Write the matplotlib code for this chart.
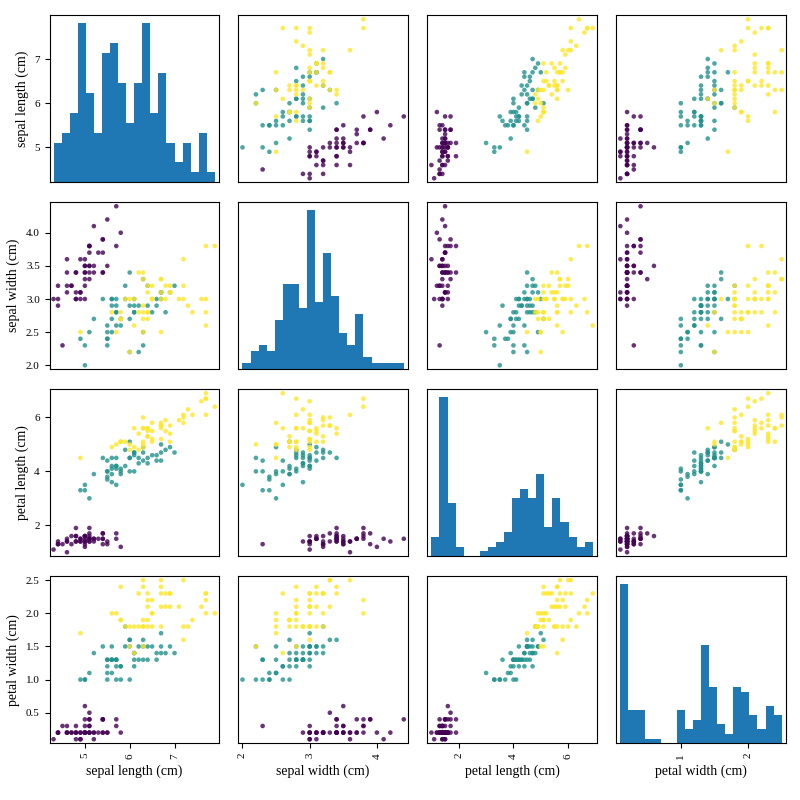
import numpy as np
import matplotlib
matplotlib.use('Agg')
import matplotlib.pyplot as plt

plt.rcParams['font.family'] = ['Liberation Serif', 'DejaVu Serif']

feature_names = ['sepal length (cm)', 'sepal width (cm)', 'petal length (cm)', 'petal width (cm)']

sepal_length = [
    5.1, 4.9, 4.7, 4.6, 5.0, 5.4, 4.6, 5.0, 4.4, 4.9, 5.4, 4.8, 4.8, 4.3, 5.8, 5.7, 5.4, 5.1, 5.7, 5.1, 5.4, 5.1, 4.6, 5.1, 4.8,
    5.0, 5.0, 5.2, 5.2, 4.7, 4.8, 5.4, 5.2, 5.5, 4.9, 5.0, 5.5, 4.9, 4.4, 5.1, 5.0, 4.5, 4.4, 5.0, 5.1, 4.8, 5.1, 4.6, 5.3, 5.0,
    7.0, 6.4, 6.9, 5.5, 6.5, 5.7, 6.3, 4.9, 6.6, 5.2, 5.0, 5.9, 6.0, 6.1, 5.6, 6.7, 5.6, 5.8, 6.2, 5.6, 5.9, 6.1, 6.3, 6.1, 6.4,
    6.6, 6.8, 6.7, 6.0, 5.7, 5.5, 5.5, 5.8, 6.0, 5.4, 6.0, 6.7, 6.3, 5.6, 5.5, 5.5, 6.1, 5.8, 5.0, 5.6, 5.7, 5.7, 6.2, 5.1, 5.7,
    6.3, 5.8, 7.1, 6.3, 6.5, 7.6, 4.9, 7.3, 6.7, 7.2, 6.5, 6.4, 6.8, 5.7, 5.8, 6.4, 6.5, 7.7, 7.7, 6.0, 6.9, 5.6, 7.7, 6.3, 6.7,
    7.2, 6.2, 6.1, 6.4, 7.2, 7.4, 7.9, 6.4, 6.3, 6.1, 7.7, 6.3, 6.4, 6.0, 6.9, 6.7, 6.9, 5.8, 6.8, 6.7, 6.7, 6.3, 6.5, 6.2, 5.9,
]
sepal_width = [
    3.5, 3.0, 3.2, 3.1, 3.6, 3.9, 3.4, 3.4, 2.9, 3.1, 3.7, 3.4, 3.0, 3.0, 4.0, 4.4, 3.9, 3.5, 3.8, 3.8, 3.4, 3.7, 3.6, 3.3, 3.4,
    3.0, 3.4, 3.5, 3.4, 3.2, 3.1, 3.4, 4.1, 4.2, 3.1, 3.2, 3.5, 3.6, 3.0, 3.4, 3.5, 2.3, 3.2, 3.5, 3.8, 3.0, 3.8, 3.2, 3.7, 3.3,
    3.2, 3.2, 3.1, 2.3, 2.8, 2.8, 3.3, 2.4, 2.9, 2.7, 2.0, 3.0, 2.2, 2.9, 2.9, 3.1, 3.0, 2.7, 2.2, 2.5, 3.2, 2.8, 2.5, 2.8, 2.9,
    3.0, 2.8, 3.0, 2.9, 2.6, 2.4, 2.4, 2.7, 2.7, 3.0, 3.4, 3.1, 2.3, 3.0, 2.5, 2.6, 3.0, 2.6, 2.3, 2.7, 3.0, 2.9, 2.9, 2.5, 2.8,
    3.3, 2.7, 3.0, 2.9, 3.0, 3.0, 2.5, 2.9, 2.5, 3.6, 3.2, 2.7, 3.0, 2.5, 2.8, 3.2, 3.0, 3.8, 2.6, 2.2, 3.2, 2.8, 2.8, 2.7, 3.3,
    3.2, 2.8, 3.0, 2.8, 3.0, 2.8, 3.8, 2.8, 2.8, 2.6, 3.0, 3.4, 3.1, 3.0, 3.1, 3.1, 3.1, 2.7, 3.2, 3.3, 3.0, 2.5, 3.0, 3.4, 3.0,
]
petal_length = [
    1.4, 1.4, 1.3, 1.5, 1.4, 1.7, 1.4, 1.5, 1.4, 1.5, 1.5, 1.6, 1.4, 1.1, 1.2, 1.5, 1.3, 1.4, 1.7, 1.5, 1.7, 1.5, 1.0, 1.7, 1.9,
    1.6, 1.6, 1.5, 1.4, 1.6, 1.6, 1.5, 1.5, 1.4, 1.5, 1.2, 1.3, 1.4, 1.3, 1.5, 1.3, 1.3, 1.3, 1.6, 1.9, 1.4, 1.6, 1.4, 1.5, 1.4,
    4.7, 4.5, 4.9, 4.0, 4.6, 4.5, 4.7, 3.3, 4.6, 3.9, 3.5, 4.2, 4.0, 4.7, 3.6, 4.4, 4.5, 4.1, 4.5, 3.9, 4.8, 4.0, 4.9, 4.7, 4.3,
    4.4, 4.8, 5.0, 4.5, 3.5, 3.8, 3.7, 3.9, 5.1, 4.5, 4.5, 4.7, 4.4, 4.1, 4.0, 4.4, 4.6, 4.0, 3.3, 4.2, 4.2, 4.2, 4.3, 3.0, 4.1,
    6.0, 5.1, 5.9, 5.6, 5.8, 6.6, 4.5, 6.3, 5.8, 6.1, 5.1, 5.3, 5.5, 5.0, 5.1, 5.3, 5.5, 6.7, 6.9, 5.0, 5.7, 4.9, 6.7, 4.9, 5.7,
    6.0, 4.8, 4.9, 5.6, 5.8, 6.1, 6.4, 5.6, 5.1, 5.6, 6.1, 5.6, 5.5, 4.8, 5.4, 5.6, 5.1, 5.1, 5.9, 5.7, 5.2, 5.0, 5.2, 5.4, 5.1,
]
petal_width = [
    0.2, 0.2, 0.2, 0.2, 0.2, 0.4, 0.3, 0.2, 0.2, 0.1, 0.2, 0.2, 0.1, 0.1, 0.2, 0.4, 0.4, 0.3, 0.3, 0.3, 0.2, 0.4, 0.2, 0.5, 0.2,
    0.2, 0.4, 0.2, 0.2, 0.2, 0.2, 0.4, 0.1, 0.2, 0.2, 0.2, 0.2, 0.1, 0.2, 0.2, 0.3, 0.3, 0.2, 0.6, 0.4, 0.3, 0.2, 0.2, 0.2, 0.2,
    1.4, 1.5, 1.5, 1.3, 1.5, 1.3, 1.6, 1.0, 1.3, 1.4, 1.0, 1.5, 1.0, 1.4, 1.3, 1.4, 1.5, 1.0, 1.5, 1.1, 1.8, 1.3, 1.5, 1.2, 1.3,
    1.4, 1.4, 1.7, 1.5, 1.0, 1.1, 1.0, 1.2, 1.6, 1.5, 1.6, 1.5, 1.3, 1.3, 1.3, 1.2, 1.4, 1.2, 1.0, 1.3, 1.2, 1.3, 1.3, 1.1, 1.3,
    2.5, 1.9, 2.1, 1.8, 2.2, 2.1, 1.7, 1.8, 1.8, 2.5, 2.0, 1.9, 2.1, 2.0, 2.4, 2.3, 1.8, 2.2, 2.3, 1.5, 2.3, 2.0, 2.0, 1.8, 2.1,
    1.8, 1.8, 1.8, 2.1, 1.6, 1.9, 2.0, 2.2, 1.5, 1.4, 2.3, 2.4, 1.8, 1.8, 2.1, 2.4, 2.3, 1.9, 2.3, 2.5, 2.3, 1.9, 2.0, 2.3, 1.8,
]
species = [0] * 50 + [1] * 50 + [2] * 50

x_ticks = [[5, 6, 7], [2, 3, 4], [2, 4, 6], [1, 2]]
y_ticks = [[5, 6, 7], [2.0, 2.5, 3.0, 3.5, 4.0], [2, 4, 6], [0.5, 1.0, 1.5, 2.0, 2.5]]
y_tick_labels = [['5', '6', '7'], ['2.0', '2.5', '3.0', '3.5', '4.0'], ['2', '4', '6'], ['0.5', '1.0', '1.5', '2.0', '2.5']]

columns = [np.array(sepal_length), np.array(sepal_width), np.array(petal_length), np.array(petal_width)]
n = len(columns)

fig, axes = plt.subplots(n, n, figsize=(8, 8))
fig.subplots_adjust(left=49.5 / 800, right=785.7 / 800, top=1 - 15.3 / 800, bottom=1 - 743.2 / 800,
                    wspace=0.1155, hspace=0.1198)

# limits with a small padding, same for each row and column
limits = []
for col in columns:
    pad = (col.max() - col.min()) * 0.05 / 2
    limits.append((col.min() - pad, col.max() + pad))

for i in range(n):
    for j in range(n):
        ax = axes[i, j]
        if i == j:
            ax.hist(columns[i], bins=20)
            ax.set_xlim(limits[j])
        else:
            ax.scatter(columns[j], columns[i], c=species, marker='o', s=11, alpha=0.8, edgecolors='none')
            ax.set_xlim(limits[j])
            ax.set_ylim(limits[i])
        ax.set_xlabel(feature_names[j], fontsize=10)
        ax.set_ylabel(feature_names[i], fontsize=10)
        ax.tick_params(labelsize=8)
        ax.set_xticks(x_ticks[j])
        ax.set_xticklabels(x_ticks[j], rotation=90)
        if i != j:
            ax.set_yticks(y_ticks[i])
            ax.set_yticklabels(y_tick_labels[i])
        if j != 0:
            ax.yaxis.set_visible(False)
        if i != n - 1:
            ax.xaxis.set_visible(False)

# first diagonal panel shows sepal length ticks on the count axis
locs = np.array(y_ticks[0])
lim0 = axes[0, 0].get_ylim()
adjusted = (locs - limits[0][0]) / (limits[0][1] - limits[0][0]) * (lim0[1] - lim0[0]) + lim0[0]
axes[0, 0].set_yticks(adjusted)
axes[0, 0].set_yticklabels(y_tick_labels[0])

fig.savefig('out.png', dpi=100)
